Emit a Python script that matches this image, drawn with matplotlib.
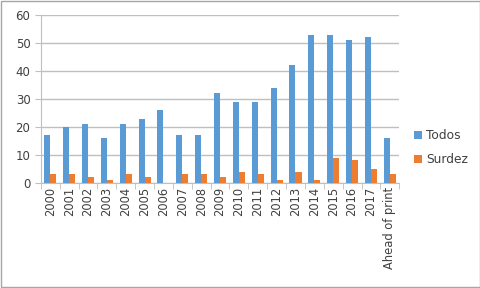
import numpy as np
import matplotlib.pyplot as plt

categorias = ['2000', '2001', '2002', '2003', '2004', '2005', '2006', '2007', '2008',
              '2009', '2010', '2011', '2012', '2013', '2014', '2015', '2016', '2017',
              'Ahead of print']
todos = [17, 20, 21, 16, 21, 23, 26, 17, 17, 32, 29, 29, 34, 42, 53, 53, 51, 52, 16]
surdez = [3, 3, 2, 1, 3, 2, 0, 3, 3, 2, 4, 3, 1, 4, 1, 9, 8, 5, 3]

azul = '#5B9BD5'
naranja = '#ED7D31'
gris = '#BFBFBF'

fig = plt.figure(figsize=(4.81, 2.88), dpi=100)
ax = fig.add_axes([0.085, 0.365, 0.745, 0.583])

x = np.arange(len(categorias))
w = 0.32
ax.bar(x - w/2, todos, w, color=azul, label='Todos', zorder=3)
ax.bar(x + w/2, surdez, w, color=naranja, label='Surdez', zorder=3)

ax.set_xlim(-0.5, len(categorias) - 0.5)
ax.set_ylim(0, 60)
ax.set_yticks(range(0, 61, 10))
ax.yaxis.grid(True, color=gris, linewidth=1, zorder=0)

ax.set_xticks(x)
ax.set_xticklabels(categorias, rotation=90, fontsize=8.3, color='#404040')
ax.tick_params(axis='x', length=0, pad=3)
ax.set_xticks(np.arange(-0.5, len(categorias), 1), minor=True)
ax.tick_params(axis='x', which='minor', length=4, color=gris, direction='out')
ax.tick_params(axis='y', length=4, color=gris, labelsize=8.5, labelcolor='#404040')

for s in ['top', 'right']:
    ax.spines[s].set_visible(False)
ax.spines['left'].set_color(gris)
ax.spines['bottom'].set_color(gris)

ax.legend(loc='center left', bbox_to_anchor=(1.01, 0.21), frameon=False,
          fontsize=8.8, handlelength=0.7, handleheight=0.7, handletextpad=0.3,
          labelspacing=0.9, labelcolor='#404040')

# marco exterior
fig.patches.append(plt.Rectangle((0.002, 0.003), 0.996, 0.994, transform=fig.transFigure,
                                 fill=False, edgecolor='#A6A6A6', linewidth=1))

fig.savefig('out.png', dpi=100)
